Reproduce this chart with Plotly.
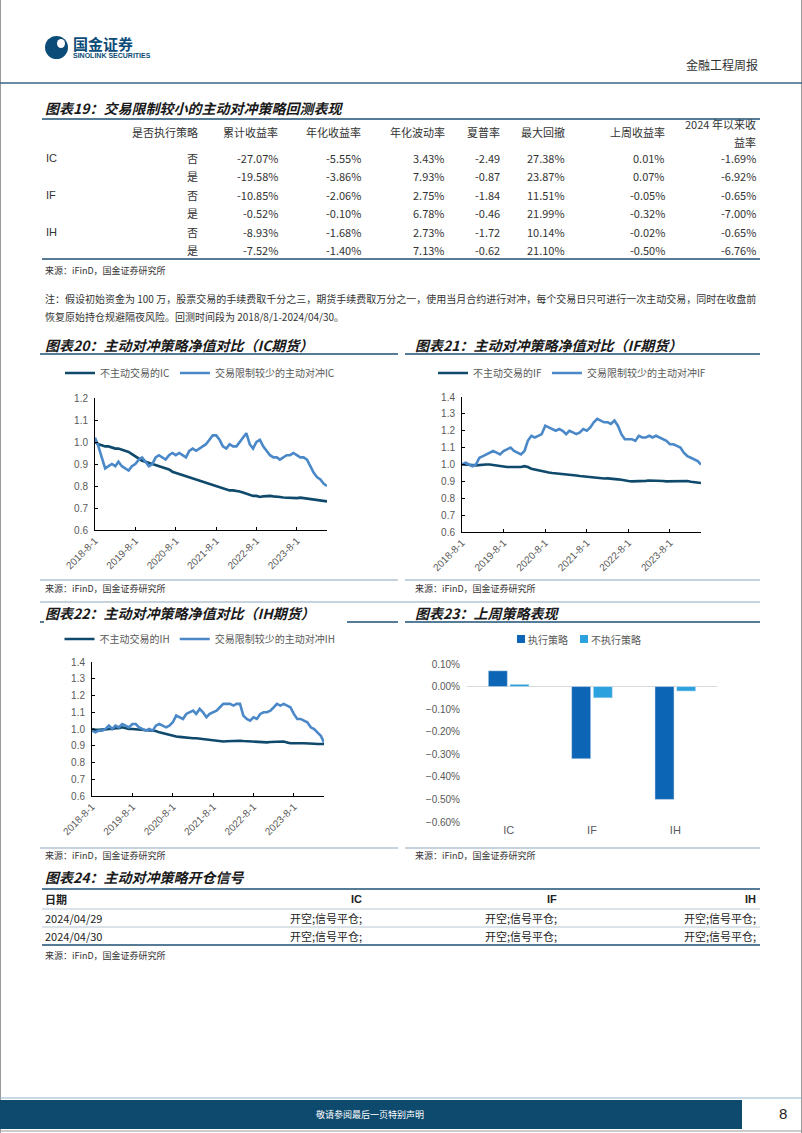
import pandas as pd
import plotly.graph_objects as go

W, H = 802, 1133
CJK = "Noto Sans CJK SC"
LAT = "Liberation Sans"
DARK = "#0f4a6c"
LIGHT = "#4a88c8"
NAVY = "#1d4f73"
TICK = "#595959"
BAR_EXEC = "#0c65b5"
BAR_NOEXEC = "#2ba2de"


def px(x):
    return x / W


def py(y):
    return 1 - y / H


# ---------------- data ----------------
# month starts 2018-08 .. 2024-04 plus last backtest day
dates = list(pd.date_range("2018-08-01", "2024-04-01", freq="MS")) + [pd.Timestamp("2024-04-30")]

ic_passive = [1.00, 0.99, 0.985, 0.98, 0.98, 0.975, 0.97, 0.97, 0.965, 0.96,
              0.955, 0.945, 0.935, 0.925, 0.915, 0.91, 0.905, 0.90, 0.895, 0.89,
              0.885, 0.88, 0.875, 0.865, 0.86, 0.855, 0.85, 0.845, 0.84, 0.835,
              0.83, 0.825, 0.82, 0.815, 0.81, 0.805, 0.80, 0.795, 0.79, 0.785,
              0.78, 0.78, 0.778, 0.775, 0.77, 0.765, 0.76, 0.755, 0.755, 0.75,
              0.753, 0.755, 0.755, 0.753, 0.75, 0.75, 0.748, 0.747, 0.747, 0.745,
              0.745, 0.747, 0.745, 0.742, 0.74, 0.738, 0.735, 0.732, 0.73, 0.73]
ic_active = [1.02, 0.98, 0.93, 0.88, 0.89, 0.90, 0.89, 0.91, 0.89, 0.88,
             0.87, 0.89, 0.90, 0.92, 0.93, 0.91, 0.89, 0.90, 0.93, 0.94,
             0.93, 0.92, 0.94, 0.95, 0.94, 0.95, 0.94, 0.93, 0.96, 0.97,
             0.96, 0.97, 0.98, 0.99, 1.01, 1.03, 1.03, 1.01, 0.98, 0.97,
             0.99, 0.98, 0.98, 1.00, 1.02, 1.04, 0.99, 0.97, 1.00, 1.01,
             0.98, 0.96, 0.94, 0.93, 0.93, 0.92, 0.93, 0.94, 0.94, 0.95,
             0.94, 0.93, 0.93, 0.92, 0.89, 0.86, 0.84, 0.83, 0.81, 0.80]
if_passive = [1.00, 1.00, 0.998, 0.997, 0.995, 0.998, 0.998, 1.00, 1.00, 0.998,
              0.995, 0.99, 0.988, 0.985, 0.985, 0.983, 0.985, 0.985, 0.99, 0.985,
              0.975, 0.97, 0.965, 0.96, 0.957, 0.953, 0.95, 0.948, 0.947, 0.945,
              0.945, 0.943, 0.938, 0.935, 0.932, 0.93, 0.928, 0.925, 0.92, 0.918,
              0.917, 0.917, 0.918, 0.915, 0.915, 0.912, 0.91, 0.905, 0.902, 0.90,
              0.90, 0.90, 0.902, 0.903, 0.905, 0.905, 0.906, 0.904, 0.902, 0.90,
              0.90, 0.90, 0.902, 0.903, 0.90, 0.902, 0.898, 0.895, 0.893, 0.89]
if_active = [1.00, 1.01, 1.00, 0.99, 1.00, 1.04, 1.05, 1.06, 1.07, 1.08,
             1.07, 1.06, 1.08, 1.09, 1.10, 1.08, 1.07, 1.06, 1.08, 1.14,
             1.17, 1.16, 1.17, 1.18, 1.23, 1.22, 1.21, 1.20, 1.21, 1.20,
             1.18, 1.20, 1.19, 1.18, 1.19, 1.21, 1.20, 1.22, 1.25, 1.27,
             1.26, 1.25, 1.25, 1.24, 1.26, 1.23, 1.18, 1.15, 1.15, 1.15,
             1.14, 1.17, 1.16, 1.16, 1.17, 1.16, 1.17, 1.16, 1.15, 1.14,
             1.12, 1.12, 1.11, 1.10, 1.07, 1.05, 1.04, 1.03, 1.02, 1.00]
ih_passive = [1.00, 0.995, 0.995, 0.995, 0.998, 1.00, 1.00, 1.005, 1.005, 1.01,
              1.005, 1.00, 1.00, 0.998, 0.995, 0.995, 0.993, 0.99, 0.99, 0.988,
              0.98, 0.975, 0.968, 0.962, 0.958, 0.955, 0.953, 0.95, 0.95, 0.948,
              0.945, 0.945, 0.942, 0.94, 0.937, 0.933, 0.93, 0.928, 0.926, 0.925,
              0.927, 0.928, 0.93, 0.93, 0.93, 0.928, 0.927, 0.925, 0.922, 0.92,
              0.92, 0.92, 0.92, 0.922, 0.923, 0.925, 0.925, 0.925, 0.92, 0.915,
              0.915, 0.913, 0.915, 0.915, 0.915, 0.913, 0.912, 0.91, 0.91, 0.91]
ih_active = [0.99, 0.98, 0.99, 0.99, 1.00, 1.02, 1.00, 1.02, 1.01, 1.03,
             1.02, 1.01, 1.03, 1.03, 1.01, 1.00, 0.99, 1.00, 0.99, 1.02,
             1.03, 1.02, 1.01, 1.02, 1.04, 1.08, 1.07, 1.06, 1.09, 1.10,
             1.11, 1.09, 1.12, 1.10, 1.07, 1.09, 1.10, 1.11, 1.13, 1.15,
             1.15, 1.15, 1.14, 1.15, 1.15, 1.08, 1.06, 1.05, 1.07, 1.06,
             1.09, 1.10, 1.10, 1.11, 1.13, 1.15, 1.14, 1.15, 1.14, 1.13,
             1.09, 1.06, 1.06, 1.05, 1.04, 1.01, 1.00, 0.98, 0.96, 0.92]

year_ticks = ["2018-08-01", "2019-08-01", "2020-08-01", "2021-08-01", "2022-08-01", "2023-08-01"]
year_labels = ["2018-8-1", "2019-8-1", "2020-8-1", "2021-8-1", "2022-8-1", "2023-8-1"]

bar_cats = ["IC", "IF", "IH"]
bar_exec = [0.07, -0.32, -0.50]
bar_noexec = [0.01, -0.05, -0.02]

# table 19
t19_products = ["IC", "", "IF", "", "IH", ""]
t19_flag = ["否", "是", "否", "是", "否", "是"]
t19_cum = ["-27.07%", "-19.58%", "-10.85%", "-0.52%", "-8.93%", "-7.52%"]
t19_annret = ["-5.55%", "-3.86%", "-2.06%", "-0.10%", "-1.68%", "-1.40%"]
t19_annvol = ["3.43%", "7.93%", "2.75%", "6.78%", "2.73%", "7.13%"]
t19_sharpe = ["-2.49", "-0.87", "-1.84", "-0.46", "-1.72", "-0.62"]
t19_mdd = ["27.38%", "23.87%", "11.51%", "21.99%", "10.14%", "21.10%"]
t19_week = ["0.01%", "0.07%", "-0.05%", "-0.32%", "-0.02%", "-0.50%"]
t19_ytd = ["-1.69%", "-6.92%", "-0.65%", "-7.00%", "-0.65%", "-6.76%"]
t19_headers = ["是否执行策略", "累计收益率", "年化收益率", "年化波动率", "夏普率", "最大回撤", "上周收益率"]

# table 24
t24_headers = ["日期", "IC", "IF", "IH"]
t24_dates = ["2024/04/29", "2024/04/30"]
t24_ic = ["开空;信号平仓;", "开空;信号平仓;"]
t24_if = ["开空;信号平仓;", "开空;信号平仓;"]
t24_ih = ["开空;信号平仓;", "开空;信号平仓;"]

fig = go.Figure()
shapes = []


def text(x, y, s, size=10, anchor="left", color="#222222", family=CJK):
    fig.add_annotation(x=px(x), y=py(y), xref="paper", yref="paper", text=s,
                       showarrow=False, xanchor=anchor, yanchor="middle",
                       font=dict(size=size, color=color, family=family))


def hline(y, x0, x1, color=NAVY, width=1.5):
    shapes.append(dict(type="line", xref="paper", yref="paper", x0=px(x0), x1=px(x1),
                       y0=py(y), y1=py(y), line=dict(color=color, width=width)))


def box(x0, y0, x1, y1, color):
    shapes.append(dict(type="rect", xref="paper", yref="paper", x0=px(x0), x1=px(x1),
                       y0=py(y1), y1=py(y0), fillcolor=color, line=dict(width=0)))


# ---------------- line charts ----------------
panels = [
    ("IC", ic_passive, ic_active, "x", "y", "legend"),
    ("IF", if_passive, if_active, "x2", "y2", "legend2"),
    ("IH", ih_passive, ih_active, "x3", "y3", "legend3"),
]
for name, passive, active, xa, ya, lg in panels:
    fig.add_trace(go.Scatter(x=dates, y=passive, mode="lines", name=f"不主动交易的{name}",
                             line=dict(color=DARK, width=2.6), xaxis=xa, yaxis=ya, legend=lg))
    fig.add_trace(go.Scatter(x=dates, y=active, mode="lines", name=f"交易限制较少的主动对冲{name}",
                             line=dict(color=LIGHT, width=2.6), xaxis=xa, yaxis=ya, legend=lg))

fig.add_trace(go.Bar(x=bar_cats, y=bar_exec, name="执行策略", marker_color=BAR_EXEC,
                     xaxis="x4", yaxis="y4", showlegend=False))
fig.add_trace(go.Bar(x=bar_cats, y=bar_noexec, name="不执行策略", marker_color=BAR_NOEXEC,
                     xaxis="x4", yaxis="y4", showlegend=False))


def date_axis(x0, x1, anchor):
    return dict(domain=[px(x0), px(x1)], anchor=anchor, type="date",
                range=["2018-08-01", "2024-04-30"], tickvals=year_ticks, ticktext=year_labels,
                tickangle=-45, ticks="inside", ticklen=3, tickcolor="#000000",
                showline=True, linecolor="#000000", linewidth=1, showgrid=False, zeroline=False,
                tickfont=dict(size=10, color=TICK, family=LAT))


def val_axis(y0, y1, lo, hi, anchor):
    return dict(domain=[py(y1), py(y0)], anchor=anchor, range=[lo, hi], dtick=0.1,
                tickformat=".1f", ticks="inside", ticklen=3, tickcolor="#000000",
                showline=True, linecolor="#000000", linewidth=1, showgrid=False, zeroline=False,
                ticklabelstandoff=4, tickfont=dict(size=10, color=TICK, family=LAT))


def legend_at(xc, y):
    return dict(orientation="h", x=px(xc), xanchor="center", y=py(y), yanchor="middle",
                bgcolor="rgba(0,0,0,0)", itemwidth=30, tracegroupgap=0,
                font=dict(size=10, color=TICK, family=CJK))


fig.update_layout(
    xaxis=date_axis(95, 327, "y"), yaxis=val_axis(398, 530, 0.6, 1.2, "x"),
    xaxis2=date_axis(462, 701, "y2"), yaxis2=val_axis(397, 532, 0.6, 1.4, "x2"),
    xaxis3=date_axis(92, 324, "y3"), yaxis3=val_axis(662, 796, 0.6, 1.4, "x3"),
    xaxis4=dict(domain=[px(467), px(717)], anchor="y4", showline=False, ticks="",
                showgrid=False, tickfont=dict(size=11, color=TICK, family=LAT)),
    yaxis4=dict(domain=[py(822), py(664)], anchor="x4", range=[-0.6, 0.1], dtick=0.1,
                tickformat=".2f", ticksuffix="%", showgrid=False, showline=False,
                zeroline=True, zerolinecolor="#d9d9d9", zerolinewidth=1,
                ticklabelstandoff=6, tickfont=dict(size=10, color=TICK, family=LAT)),
    legend=legend_at(200, 373), legend2=legend_at(572, 373), legend3=legend_at(200, 639),
    barmode="group", bargap=0.48, bargroupgap=0.12,
)

# bar chart legend (compact square markers as in the source)
box(517, 635, 525, 643, BAR_EXEC)
text(526, 639, "执行策略", size=10, color=TICK)
box(580, 635, 588, 643, BAR_NOEXEC)
text(589, 639, "不执行策略", size=10, color=TICK)

# ---------------- page frame / header / footer ----------------
shapes.append(dict(type="line", xref="paper", yref="paper", x0=px(0.5), x1=px(0.5), y0=0, y1=1,
                   line=dict(color="#9a9a9a", width=1)))
shapes.append(dict(type="line", xref="paper", yref="paper", x0=px(801.5), x1=px(801.5), y0=0, y1=1,
                   line=dict(color="#9a9a9a", width=1)))
hline(83, 0, 802, color="#3d6685", width=1.5)
shapes.append(dict(type="circle", xref="paper", yref="paper", x0=px(45), x1=px(68), y0=py(59), y1=py(36),
                   fillcolor="#0b4c78", line=dict(width=0)))
shapes.append(dict(type="circle", xref="paper", yref="paper", x0=px(57), x1=px(65), y0=py(48), y1=py(39),
                   fillcolor="white", line=dict(width=0)))
fig.add_annotation(x=px(71), y=py(44), xref="paper", yref="paper", text="<b>国金证券</b>", showarrow=False,
                   xanchor="left", yanchor="middle", font=dict(size=15, color="#0b4c78", family=CJK))
fig.add_annotation(x=px(71), y=py(56), xref="paper", yref="paper", text="<b>SINOLINK SECURITIES</b>",
                   showarrow=False, xanchor="left", yanchor="middle",
                   font=dict(size=7, color="#0b4c78", family=LAT))
text(760, 65, "金融工程周报", size=12, anchor="right", color="#333333")

hline(1098, 0, 802, color="#8fb3cc", width=1)
box(0, 1100, 742, 1129, "#0e4a6e")
hline(1131, 0, 802, color="#9a9a9a", width=1)
text(370, 1114, "敬请参阅最后一页特别声明", size=9, anchor="center", color="#ffffff")
text(783, 1113, "8", size=15, anchor="center", color="#222222", family=LAT)

# ---------------- table 19 ----------------
text(43, 108, "<b><i>图表19：交易限制较小的主动对冲策略回测表现</i></b>", size=14, color="#1a1a1a")
hline(119, 42, 760, width=1.5)
col_right = [200, 280, 363, 447, 502, 567, 667]
for xr, h in zip(col_right, t19_headers):
    text(xr, 132, h, size=11, anchor="right", color="#333333")
text(758, 124, "2024 年以来收", size=11, anchor="right", color="#333333")
text(758, 142, "益率", size=11, anchor="right", color="#333333")
row_y = [158, 176, 195, 213, 232, 250]
cols = [t19_flag, t19_cum, t19_annret, t19_annvol, t19_sharpe, t19_mdd, t19_week, t19_ytd]
for i, yy in enumerate(row_y):
    if t19_products[i]:
        text(44, yy, t19_products[i], size=11, color="#333333", family=LAT)
    for xr, col in zip(col_right + [758], cols):
        text(xr, yy, col[i], size=11, anchor="right", color="#333333")
hline(259, 42, 760, width=1.5)
text(43, 270, "来源：iFinD，国金证券研究所", size=9, color="#333333")
text(43, 298, "注：假设初始资金为 100 万，股票交易的手续费取千分之三，期货手续费取万分之一，使用当月合约进行对冲，"
              "每个交易日只可进行一次主动交易，同时在收盘前", size=10, color="#333333")
text(43, 316, "恢复原始持仓规避隔夜风险。回测时间段为 2018/8/1-2024/04/30。", size=10, color="#333333")

# ---------------- chart titles / separators ----------------
text(43, 345, "<b><i>图表20：主动对冲策略净值对比（IC期货）</i></b>", size=14, color="#1a1a1a")
text(413, 345, "<b><i>图表21：主动对冲策略净值对比（IF期货）</i></b>", size=14, color="#1a1a1a")
hline(354, 40, 398)
hline(354, 405, 760)
hline(580, 40, 398, color="#8da6bb", width=1)
hline(580, 405, 760, color="#8da6bb", width=1)
text(43, 588, "来源：iFinD，国金证券研究所", size=9, color="#333333")
text(413, 588, "来源：iFinD，国金证券研究所", size=9, color="#333333")

hline(602, 40, 760, color="#8da6bb", width=1)
text(43, 613, "<b><i>图表22：主动对冲策略净值对比（IH期货）</i></b>", size=14, color="#1a1a1a")
text(413, 613, "<b><i>图表23：上周策略表现</i></b>", size=14, color="#1a1a1a")
hline(622, 40, 44)
hline(622, 347, 398)
hline(622, 405, 760)
hline(848, 40, 398, color="#8da6bb", width=1)
hline(848, 405, 760, color="#8da6bb", width=1)
text(43, 855, "来源：iFinD，国金证券研究所", size=9, color="#333333")
text(413, 855, "来源：iFinD，国金证券研究所", size=9, color="#333333")

# ---------------- table 24 ----------------
text(43, 877, "<b><i>图表24：主动对冲策略开仓信号</i></b>", size=14, color="#1a1a1a")
hline(889, 42, 760, width=1.5)
t24_right = [364, 559, 758]
text(43, 899, f"<b>{t24_headers[0]}</b>", size=11, color="#222222")
for xr, h in zip(t24_right, t24_headers[1:]):
    text(xr, 899, f"<b>{h}</b>", size=11, anchor="right", color="#222222", family=LAT)
hline(909, 42, 760, color="#b8c8d6", width=1)
t24_y = [918, 936]
for i, yy in enumerate(t24_y):
    text(43, yy, t24_dates[i], size=11, color="#222222")
    for xr, col in zip(t24_right, [t24_ic, t24_if, t24_ih]):
        text(xr, yy, col[i], size=11, anchor="right", color="#222222")
hline(927, 42, 760, color="#b8c8d6", width=1)
hline(945, 42, 760, width=1.5)
text(43, 955, "来源：iFinD，国金证券研究所", size=9, color="#333333")

fig.update_layout(
    width=W, height=H, margin=dict(l=0, r=0, t=0, b=0, autoexpand=False),
    paper_bgcolor="white", plot_bgcolor="white", shapes=shapes,
    font=dict(family=CJK, color="#333333"),
)

# drop the browser's default body margin so the page sits at the window origin
fig.write_html("out.html", config={"displayModeBar": False},
               post_script="document.body.style.margin='0';")
